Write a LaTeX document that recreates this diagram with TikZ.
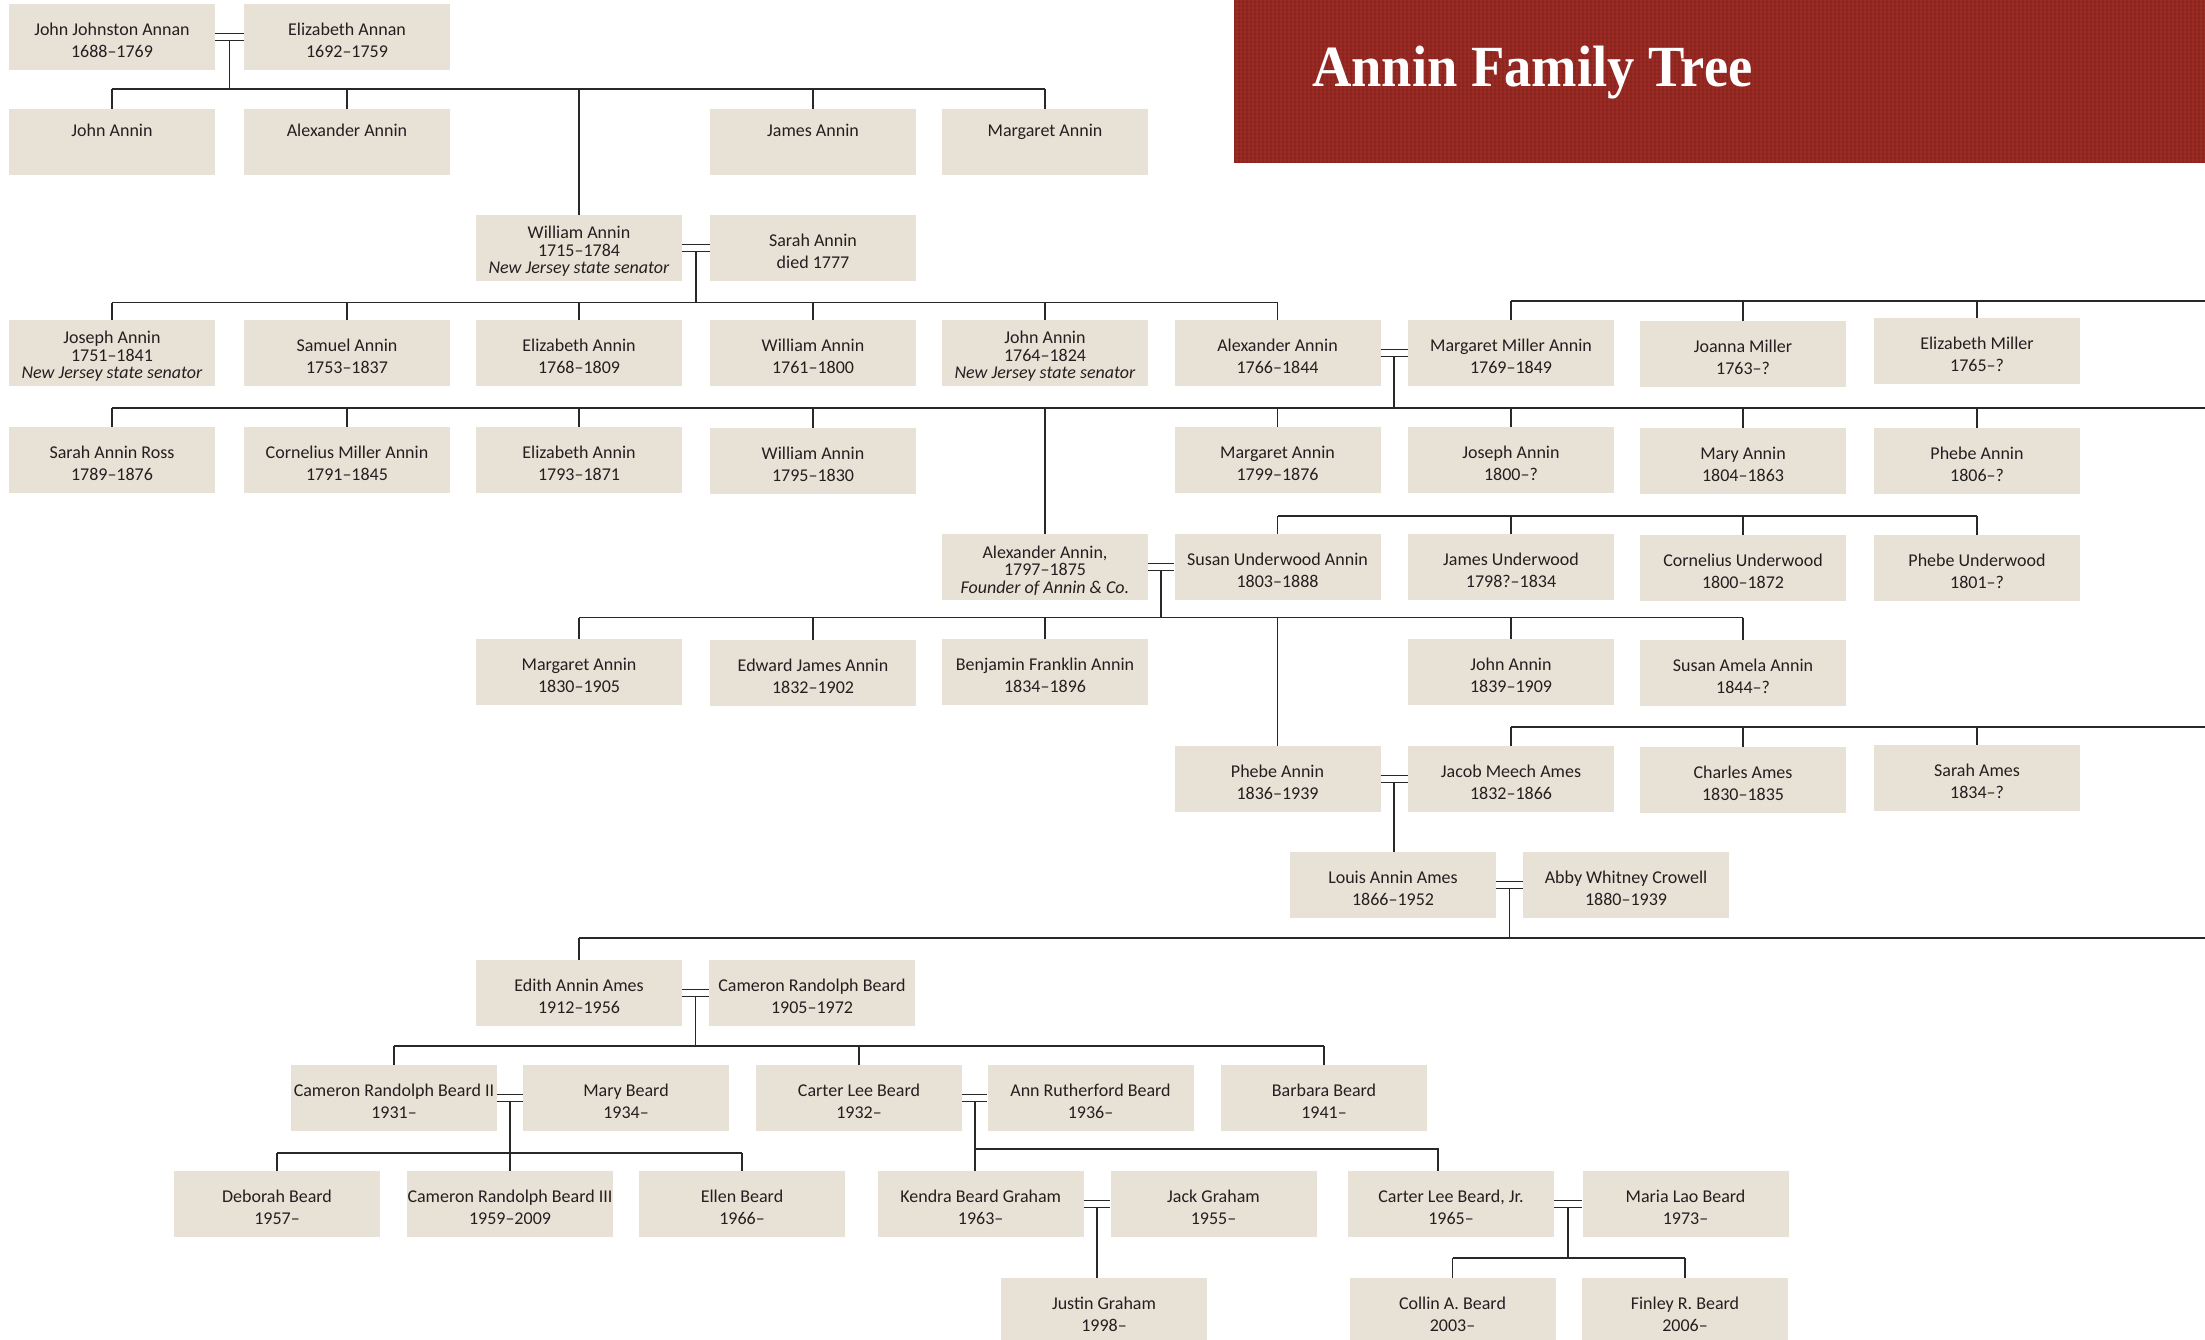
\documentclass[tikz,border=0pt]{standalone}
\usepackage{fontspec}
\setmainfont{Carlito}
\newfontfamily\titlefont{Liberation Serif}
\usetikzlibrary{calc}
\definecolor{boxfill}{RGB}{232,226,214}
\definecolor{banner}{RGB}{158,43,36}
\definecolor{linec}{RGB}{40,40,40}
\definecolor{textc}{RGB}{35,31,32}
\newcommand{\spouses}[3]{%
  \draw[conn] ([yshift=3.6pt]#1.east) -- ([yshift=3.6pt]#2.west);
  \draw[conn] ([yshift=-3.6pt]#1.east) -- ([yshift=-3.6pt]#2.west);
  \coordinate (#3) at ($([yshift=-3.6pt]#1.east)!0.5!([yshift=-3.6pt]#2.west)$);
}
\newcommand{\lowpad}{\rule[-8pt]{0pt}{0pt}}
\newcommand{\boxsetup}{\hyphenpenalty=10000\spaceskip=\fontdimen2\font\relax}
\begin{document}
\begin{tikzpicture}[x=1pt,y=-1pt,
  person/.style={fill=boxfill, minimum width=206pt, minimum height=66pt,
    inner xsep=-7pt, inner ysep=0pt,
    text width=220pt, align=center, text=textc, font=\fontsize{18}{22}\selectfont,
    execute at begin node={\boxsetup\rule{0pt}{19.5pt}}},
  single/.style={person, execute at begin node={\boxsetup}},
  trio/.style={person, font=\fontsize{18}{17.5}\selectfont,
    execute at begin node={\boxsetup\rule{0pt}{16pt}}},
  conn/.style={draw=linec, line width=1.6pt},
]
\useasboundingbox (0,0) rectangle (2205,1339);
\clip (0,0) rectangle (2205,1339);
\fill[white] (0,0) rectangle (2205,1339);

% title banner
\fill[banner] (1234,0) rectangle (2205,163);
\begin{scope}
  \clip (1234,0) rectangle (2205,163);
  \foreach \i in {0,...,243} \draw[black, opacity=0.08, line width=1.3pt] (1235+4*\i,0) -- ++(0,163);
  \foreach \j in {0,...,41} \draw[black, opacity=0.05, line width=1.2pt] (1234,2+4*\j) -- ++(971,0);
\end{scope}
\node[anchor=base west, inner sep=0pt, text=white,
  font=\titlefont\bfseries\fontsize{54}{60}\selectfont] (title) at (1312,86.7)
  {\scalebox{1.01}[1.08]{Annin Family Tree}};

\coordinate (edge) at (2215,0);

% row 1
\node[person] (jja) at (112,37) {John Johnston Annan\\1688--1769};
\node[person] (ea)  at (347,37) {Elizabeth Annan\\1692--1759};
% row 2
\node[single] (ja1) at (112,142) {John Annin\\\lowpad};
\node[single] (aa1) at (347,142) {Alexander Annin\\\lowpad};
\node[single] (jma) at (813,142) {James Annin\\\lowpad};
\node[single] (mga) at (1045,142) {Margaret Annin\\\lowpad};
% row 2b
\node[trio] (wa) at (579,248) {William Annin\\1715--1784\\\textit{New Jersey state senator}};
\node[person] (sa) at (813,248) {Sarah Annin\\died 1777};
% row 3
\node[trio] (joa) at (112,353) {Joseph Annin\\1751--1841\\\textit{New Jersey state senator}};
\node[person] (saa) at (347,353) {Samuel Annin\\1753--1837};
\node[person] (ela) at (579,353) {Elizabeth Annin\\1768--1809};
\node[person] (wia) at (813,353) {William Annin\\1761--1800};
\node[trio] (jna) at (1045,353) {John Annin\\1764--1824\\\textit{New Jersey state senator}};
\node[person] (ala) at (1277.5,353) {Alexander Annin\\1766--1844};
\node[person] (mma) at (1511,353) {Margaret Miller Annin\\1769--1849};
\node[person] (jom) at (1743,354) {Joanna Miller\\1763--?};
\node[person] (elm) at (1977,351) {Elizabeth Miller\\1765--?};
% row 4
\node[person] (sar) at (112,460) {Sarah Annin Ross\\1789--1876};
\node[person] (cma) at (347,460) {Cornelius Miller Annin\\1791--1845};
\node[person] (ela2) at (579,460) {Elizabeth Annin\\1793--1871};
\node[person] (wia2) at (813,461) {William Annin\\1795--1830};
\node[person] (maa) at (1277.5,460) {Margaret Annin\\1799--1876};
\node[person] (jsa) at (1511,460) {Joseph Annin\\1800--?};
\node[person] (mya) at (1743,461) {Mary Annin\\1804--1863};
\node[person] (pha) at (1977,461) {Phebe Annin\\1806--?};
% row 5
\node[trio] (alx) at (1045,567) {Alexander Annin,\\1797--1875\\\textit{Founder of Annin \& Co.}};
\node[person] (sua) at (1277.5,567) {Susan Underwood Annin\\1803--1888};
\node[person] (jau) at (1511,567) {James Underwood\\1798?--1834};
\node[person] (cou) at (1743,568) {Cornelius Underwood\\1800--1872};
\node[person] (phu) at (1977,568) {Phebe Underwood\\1801--?};
% row 6
\node[person] (mar3) at (579,672) {Margaret Annin\\1830--1905};
\node[person] (eja) at (813,673) {Edward James Annin\\1832--1902};
\node[person] (bfa) at (1045,672) {Benjamin Franklin Annin\\1834--1896};
\node[person] (jn3) at (1511,672) {John Annin\\1839--1909};
\node[person] (saa3) at (1743,673) {Susan Amela Annin\\1844--?};
% row 7
\node[person] (pha3) at (1277.5,779) {Phebe Annin\\1836--1939};
\node[person] (jma3) at (1511,779) {Jacob Meech Ames\\1832--1866};
\node[person] (cha) at (1743,780) {Charles Ames\\1830--1835};
\node[person] (sam) at (1977,778) {Sarah Ames\\1834--?};
% row 8
\node[person] (laa) at (1393,885) {Louis Annin Ames\\1866--1952};
\node[person] (awc) at (1626,885) {Abby Whitney Crowell\\1880--1939};
% row 9
\node[person] (eaa) at (579,993) {Edith Annin Ames\\1912--1956};
\node[person] (crb) at (812,993) {Cameron Randolph Beard\\1905--1972};
% row 10
\node[person] (crb2) at (394,1098) {Cameron Randolph Beard II\\1931--};
\node[person] (myb) at (626,1098) {Mary Beard\\1934--};
\node[person] (clb) at (859,1098) {Carter Lee Beard\\1932--};
\node[person] (arb) at (1090.5,1098) {Ann Rutherford Beard\\1936--};
\node[person] (bbb) at (1324,1098) {Barbara Beard\\1941--};
% row 11
\node[person] (deb) at (277,1204) {Deborah Beard\\1957--};
\node[person] (crb3) at (510,1204) {Cameron Randolph Beard III\\1959--2009};
\node[person] (elb) at (742,1204) {Ellen Beard\\1966--};
\node[person] (kbg) at (980.7,1204) {Kendra Beard Graham\\1963--};
\node[person] (jkg) at (1213.5,1204) {Jack Graham\\1955--};
\node[person] (clj) at (1451,1204) {Carter Lee Beard, Jr.\\1965--};
\node[person] (mlb) at (1685.5,1204) {Maria Lao Beard\\1973--};
% row 12
\node[person] (jug) at (1104,1311) {Justin Graham\\1998--};
\node[person] (cab) at (1452.5,1311) {Collin A. Beard\\2003--};
\node[person] (frb) at (1685,1311) {Finley R. Beard\\2006--};

% ---- connectors ----
% John Johnston Annan + Elizabeth Annan
\spouses{jja}{ea}{m1}
\coordinate (b1) at (0,89);
\draw[conn] (m1) -- (m1 |- b1);
\draw[conn] (ja1.north |- b1) -- (mga.north |- b1);
\foreach \n in {ja1,aa1,wa,jma,mga} \draw[conn] (\n.north |- b1) -- (\n.north);

% William + Sarah
\spouses{wa}{sa}{m2}
\coordinate (b2) at (0,302.5);
\draw[conn] (m2) -- (m2 |- b2);
\draw[conn] (joa.north |- b2) -- (ala.north |- b2);
\foreach \n in {joa,saa,ela,wia,jna,ala} \draw[conn] (\n.north |- b2) -- (\n.north);

% Miller siblings
\coordinate (b3) at (0,301);
\draw[conn] (mma.north |- b3) -- (edge |- b3);
\foreach \n in {mma,jom,elm} \draw[conn] (\n.north |- b3) -- (\n.north);

% Alexander + Margaret Miller
\spouses{ala}{mma}{m3}
\coordinate (b4) at (0,408);
\draw[conn] (m3) -- (m3 |- b4);
\draw[conn] (sar.north |- b4) -- (edge |- b4);
\foreach \n in {sar,cma,ela2,wia2,alx,maa,jsa,mya,pha} \draw[conn] (\n.north |- b4) -- (\n.north);

% Underwood siblings
\coordinate (b5) at (0,516);
\draw[conn] (sua.north |- b5) -- (phu.north |- b5);
\foreach \n in {sua,jau,cou,phu} \draw[conn] (\n.north |- b5) -- (\n.north);

% Alexander + Susan
\spouses{alx}{sua}{m4}
\coordinate (b6) at (0,617.5);
\draw[conn] (m4) -- (m4 |- b6);
\draw[conn] (mar3.north |- b6) -- (saa3.north |- b6);
\foreach \n in {mar3,eja,bfa,pha3,jn3,saa3} \draw[conn] (\n.north |- b6) -- (\n.north);

% Ames siblings
\coordinate (b7) at (0,727);
\draw[conn] (jma3.north |- b7) -- (edge |- b7);
\foreach \n in {jma3,cha,sam} \draw[conn] (\n.north |- b7) -- (\n.north);

% Phebe + Jacob
\spouses{pha3}{jma3}{m5}
\draw[conn] (m5) -- (m5 |- laa.north);

% Louis + Abby
\spouses{laa}{awc}{m6}
\coordinate (b8) at (0,938);
\draw[conn] (m6) -- (m6 |- b8);
\draw[conn] (eaa.north |- b8) -- (edge |- b8);
\draw[conn] (eaa.north |- b8) -- (eaa.north);

% Edith + Cameron
\spouses{eaa}{crb}{m7}
\coordinate (b9) at (0,1046);
\draw[conn] (m7) -- (m7 |- b9);
\draw[conn] (crb2.north |- b9) -- (bbb.north |- b9);
\foreach \n in {crb2,clb,bbb} \draw[conn] (\n.north |- b9) -- (\n.north);

% Cameron II + Mary
\spouses{crb2}{myb}{m8}
\coordinate (b10) at (0,1153);
\draw[conn] (m8) -- (m8 |- b10);
\draw[conn] (deb.north |- b10) -- (elb.north |- b10);
\foreach \n in {deb,crb3,elb} \draw[conn] (\n.north |- b10) -- (\n.north);

% Carter + Ann
\spouses{clb}{arb}{m9}
\coordinate (b11) at (0,1149);
\coordinate (cljtop) at ([xshift=-13pt]clj.north);
\draw[conn] (m9) -- (m9 |- kbg.north);
\draw[conn] (m9 |- b11) -- (cljtop |- b11) -- (cljtop);

% Kendra + Jack
\spouses{kbg}{jkg}{m10}
\draw[conn] (m10) -- (m10 |- jug.north);

% Carter Jr + Maria
\spouses{clj}{mlb}{m11}
\coordinate (b12) at (0,1258);
\draw[conn] (m11) -- (m11 |- b12);
\draw[conn] (cab.north |- b12) -- (frb.north |- b12);
\foreach \n in {cab,frb} \draw[conn] (\n.north |- b12) -- (\n.north);
\end{tikzpicture}
\end{document}
